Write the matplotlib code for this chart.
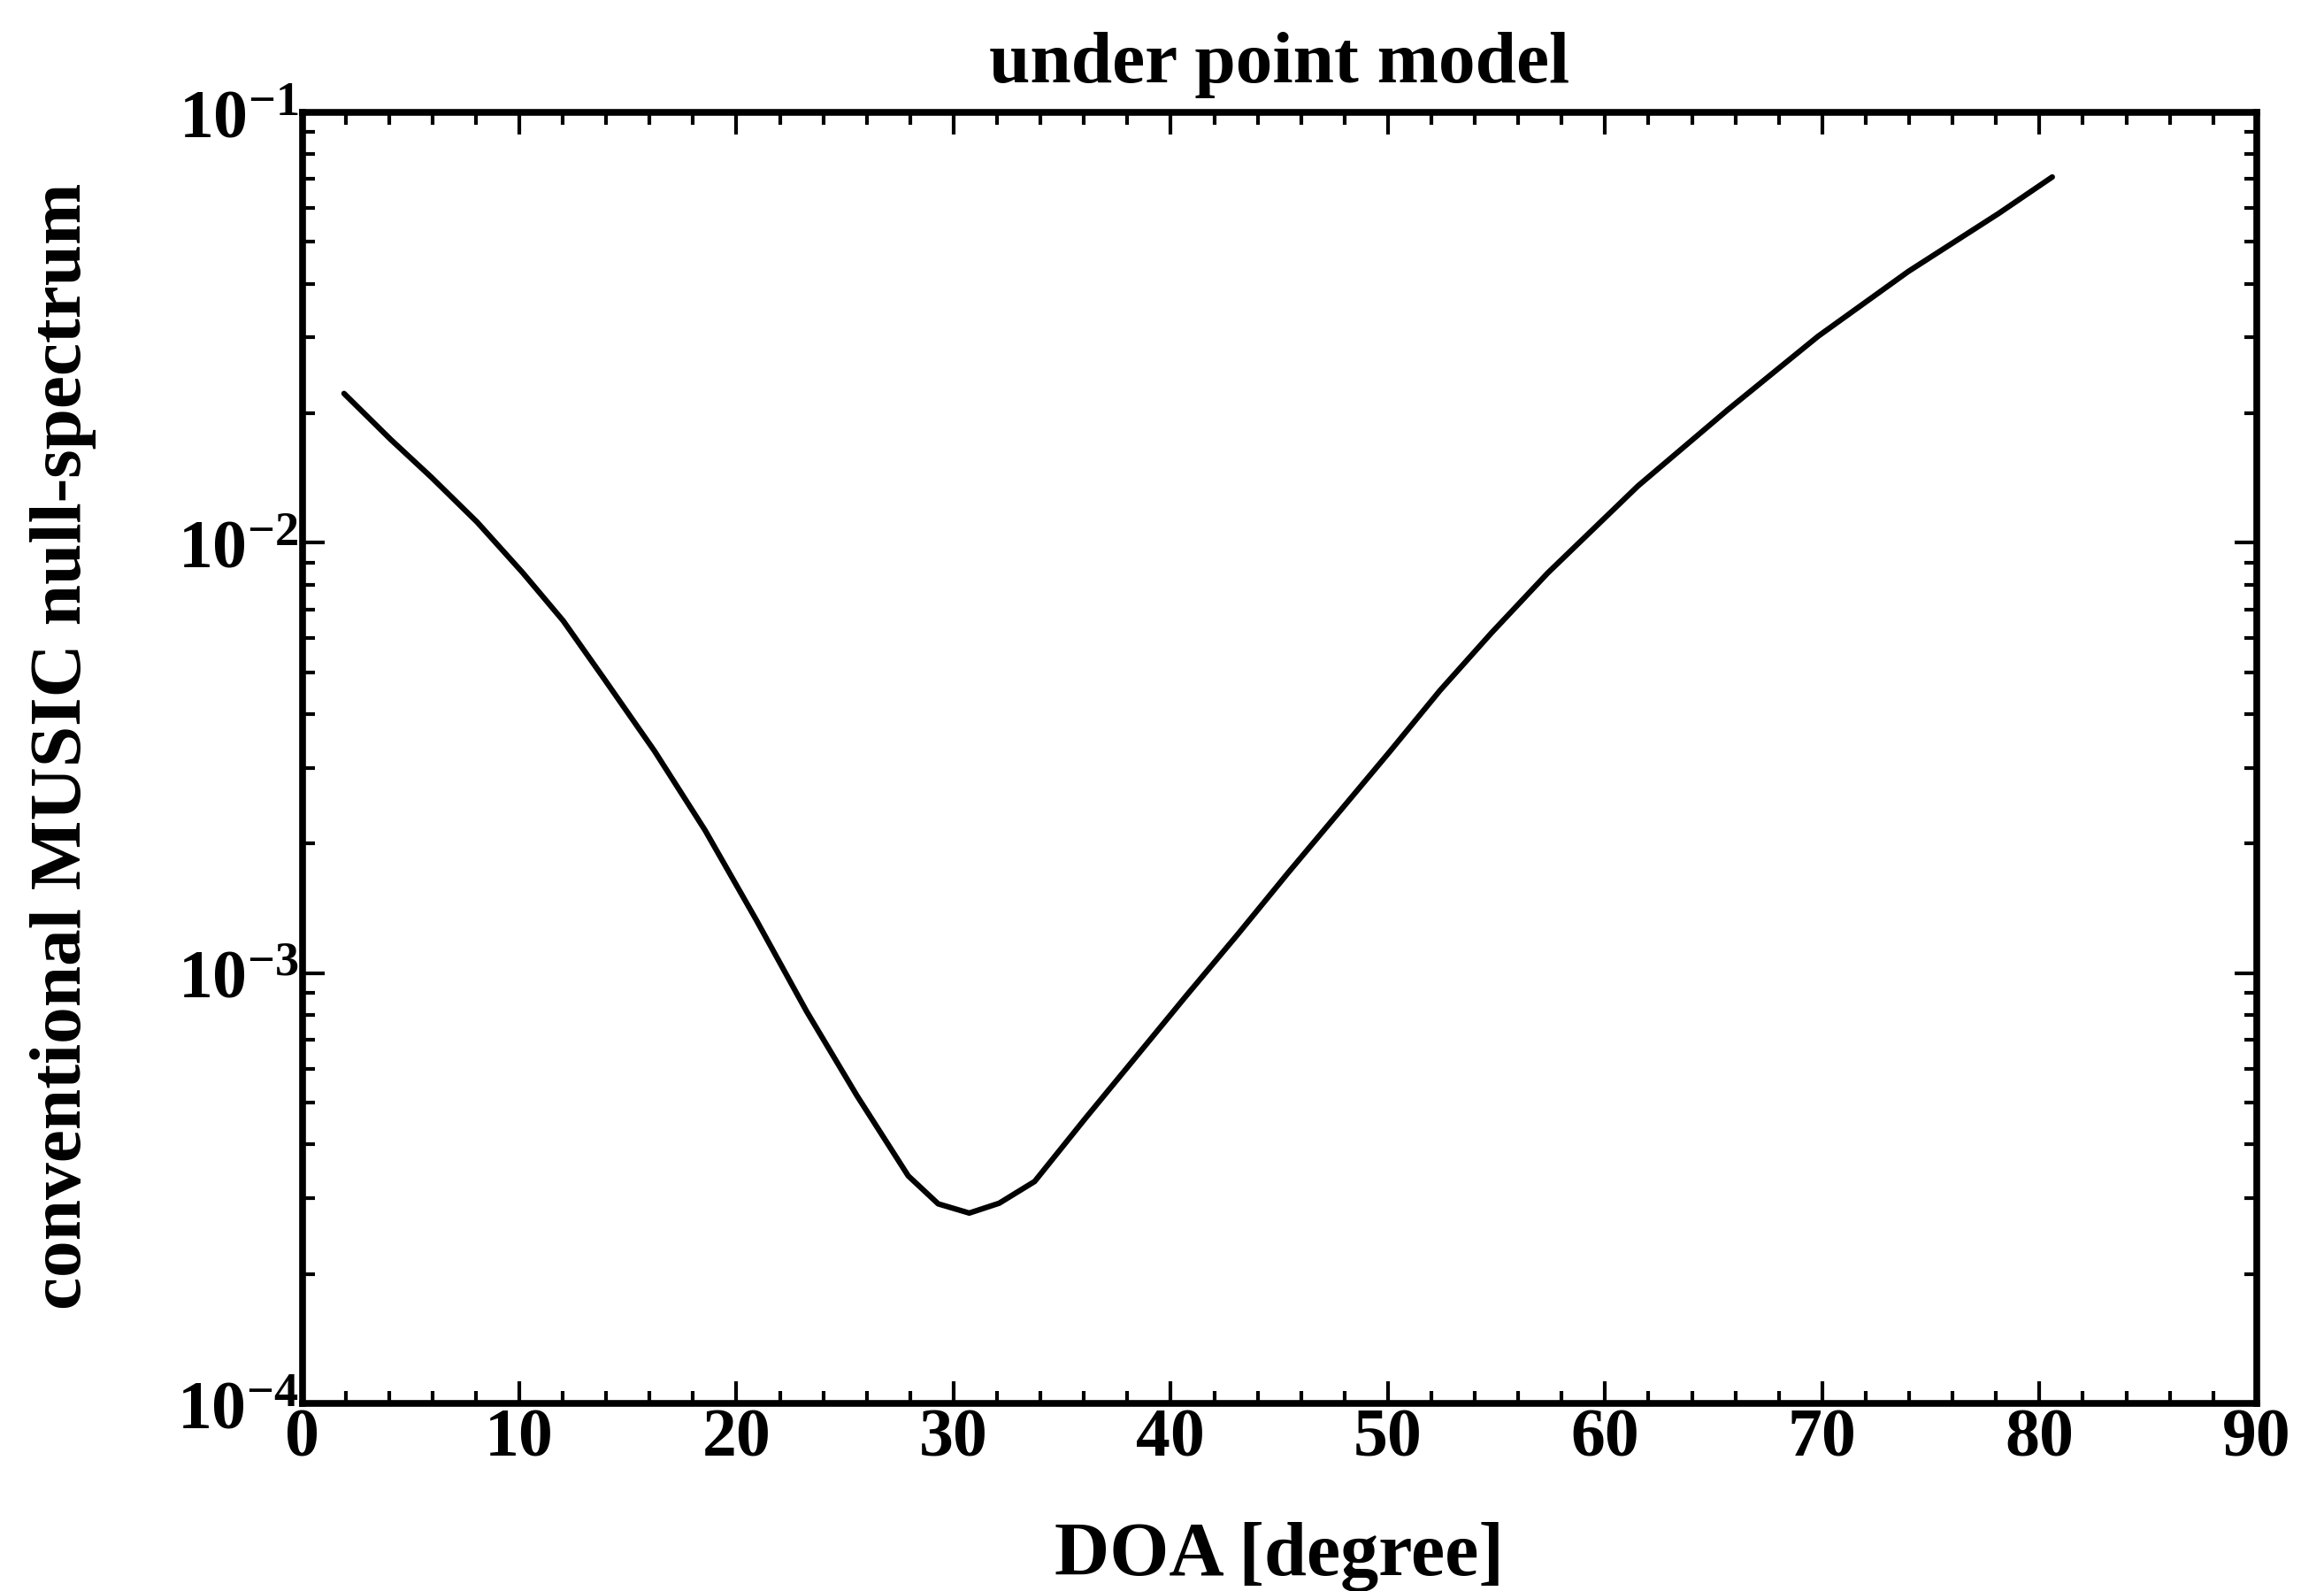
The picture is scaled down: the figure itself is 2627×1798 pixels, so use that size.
import matplotlib
matplotlib.use("Agg")
import matplotlib.pyplot as plt
from matplotlib.ticker import LogLocator, MultipleLocator

# values (DOA in degrees, null-spectrum)
doa = [1.93, 4.08, 5.94, 8.06, 10.15, 12.02, 13.87, 16.23, 18.55, 20.91, 23.23,
       25.55, 27.91, 29.29, 30.72, 32.10, 33.73, 36.07, 38.41, 40.72, 43.08,
       45.40, 47.76, 50.08, 52.40, 54.76, 57.36, 61.51, 65.66, 69.81, 73.96,
       78.11, 80.59]
nullspec = [0.02223, 0.01738, 0.01422, 0.01117, 0.00853, 0.00659, 0.00486,
            0.00328, 0.00215, 0.00133, 0.000815, 0.000519, 0.000338, 0.000291,
            0.000277, 0.000292, 0.000328, 0.000460, 0.000640, 0.000887, 0.00123,
            0.00171, 0.00237, 0.00327, 0.00454, 0.00617, 0.00851, 0.01355,
            0.0204, 0.0302, 0.0427, 0.0582, 0.0708]

xticks = [0, 10, 20, 30, 40, 50, 60, 70, 80, 90]

plt.rcParams['font.family'] = ['Liberation Serif', 'DejaVu Serif']
plt.rcParams['font.weight'] = 'bold'
plt.rcParams['mathtext.fontset'] = 'custom'
plt.rcParams['mathtext.rm'] = 'Liberation Serif:bold'
plt.rcParams['mathtext.default'] = 'rm'

fig = plt.figure(figsize=(26.27, 17.99), dpi=100)
ax = fig.add_axes([0.1300, 0.1178, 0.8410, 0.8110])

ax.plot(doa, nullspec, color='black', lw=4.5, solid_capstyle='round',
        solid_joinstyle='round')

ax.set_yscale('log')
ax.set_xlim(0, 90)
ax.set_ylim(1e-4, 1e-1)
ax.set_xticks(xticks)
ax.xaxis.set_minor_locator(MultipleLocator(2))
ax.yaxis.set_major_locator(LogLocator(base=10))
ax.yaxis.set_minor_locator(LogLocator(base=10, subs=range(2, 10)))

for s in ax.spines.values():
    s.set_linewidth(5.5)

ax.tick_params(which='both', direction='in', top=True, right=True, width=3)
ax.tick_params(which='major', length=18, labelsize=56, pad=3)
ax.tick_params(which='minor', length=10)

ax.set_title('under point model', fontsize=60, fontweight='bold', pad=25)

ax.set_xlabel('DOA [degree]', fontsize=62, fontweight='bold')
ax.xaxis.label.set_va('center')
ax.xaxis.set_label_coords(0.5, -0.118)

ax.set_ylabel('conventional MUSIC null-spectrum', fontsize=60, fontweight='bold')
ax.yaxis.label.set_va('center')
ax.yaxis.set_label_coords(-0.122, 0.51)

fig.savefig('out.png', dpi=100)
